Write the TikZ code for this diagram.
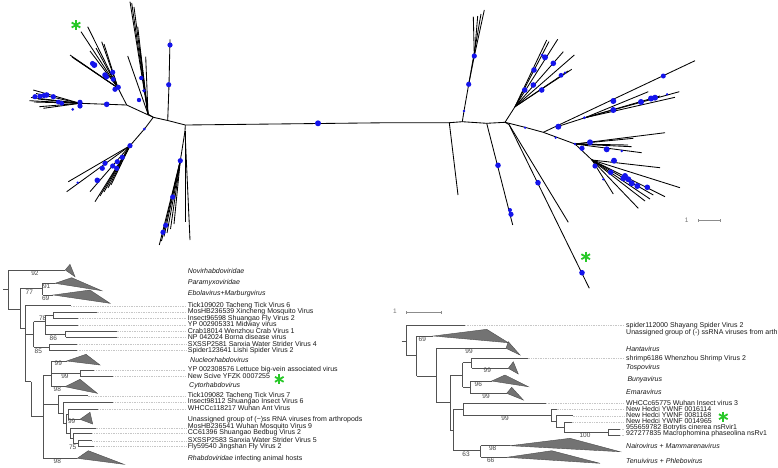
\documentclass[tikz,border=0pt]{standalone}
\usepackage{fontspec}
\setmainfont{Liberation Sans}
\definecolor{dotblue}{RGB}{20,20,235}
\definecolor{astgreen}{RGB}{40,200,40}
\tikzset{
 br/.style={draw=black!68, line width=0.7pt},
 tri/.style={fill=black!55, draw=black!70, line width=0.4pt},
 lab/.style={anchor=west, inner sep=0pt, font=\fontsize{7}{8}\selectfont, text=black!90},
 bs/.style={inner sep=0pt, font=\fontsize{6.5}{7}\selectfont, text=black!72},
 tb/.style={draw=black, line width=0.85pt},
 bd/.style={fill=dotblue},
 gd/.style={draw=black!22, line width=0.4pt, dash pattern=on 0.7pt off 1pt},
 ast/.style={draw=astgreen, line width=1.8pt},
 sb/.style={draw=black!45, line width=0.5pt},
}
\newcommand\gstar[1]{\foreach \aa in {90,30,150} {\draw[ast] #1 ++(\aa:5pt) -- ++(\aa+180:10pt);}}
\begin{document}
\begin{tikzpicture}[x=1pt,y=-1pt]
\useasboundingbox (0,0) rectangle (778,467);
\fill[white] (0,0) rectangle (778,467);

%================ TOP UNROOTED TREE ================
\draw[tb] (185.3,125) -- (390,122.7) -- (449.3,122.7) -- (462.3,121.7) -- (486.7,123.3) -- (505,122.3);
\draw[tb] (185.3,125) -- (167.7,120.5) -- (153.3,117.3);
\draw[tb] (167.7,120.5) -- (169,85) -- (170,39.3);
\draw[tb] (185.3,125) -- (185,131) -- (180.3,160.7);
\draw[tb] (185,131) -- (185,221.7);
\draw[tb] (185,131) -- (190,240);
\foreach \p in {(159.3,245),(161.5,241),(164,236.5),(167,233),(170.5,229),(174,224)}
  {\draw[tb] (180.3,160.7) -- \p;}
\draw[tb] (153.3,117.3) -- (148,114);
\foreach \p in {(130,1.7),(131.7,3),(134,7),(137.7,26.7),(140,49.3),(145.7,56.7),(127.7,56)}
  {\draw[tb] (148,114) -- \p;}
\draw[tb] (153.3,117.3) -- (126.7,105) -- (80,103.3);
\foreach \p in {(29.3,100.7),(31,97.5),(33.3,90),(36,93.5),(34,102),(39.3,106.7),(43.3,108.3),(38,99)}
  {\draw[tb] (80,103.3) -- \p;}
\draw[tb] (126.7,105) -- (118,88);
\foreach \p in {(81,31.7),(87.7,26.7),(70,55),(72,57),(74.5,58.5),(101.7,41.7),(104,44),(90,51),(96,48)}
  {\draw[tb] (118,88) -- \p;}
\draw[tb] (153.3,117.3) -- (145,128.3) -- (130,145.7);
\foreach \p in {(68.3,181.7),(66.7,191.7),(90,191.7),(95,201.7),(100,196),(104,192),(108,188),(111,185)}
  {\draw[tb] (130,145.7) -- \p;}

\draw[tb] (462.3,121.7) -- (464,111) -- (468.7,84.3) -- (474.3,56) -- (477.7,16);
\draw[tb] (474.3,56) -- (473.3,16.7);
\draw[tb] (474.3,56) -- (484.3,10);
\draw[tb] (468.7,84.3) -- (481,14);
\draw[tb] (449.3,122.7) -- (458,195);
\draw[tb] (486.7,123.3) -- (512.7,225);
\draw[tb] (505,122.3) -- (509,124.5);
\draw[tb] (509,124.5) -- (568.3,222.3);
\draw[tb] (509,124.5) -- (589.3,288.3);
\draw[tb] (505,122.3) -- (515,106.7);
\foreach \p in {(546.7,40),(549,41.5),(557.7,39.3),(563.3,51.7),(574.3,55),(571.7,69.3),(568,71)}
  {\draw[tb] (515,106.7) -- \p;}
\draw[tb] (505,122.3) -- (525,127.3) -- (543.3,132.3);
\draw[tb] (543.3,132.3) -- (695,60.7);
\draw[tb] (558.3,126.3) -- (585,117.7) -- (648.3,91.7);
\draw[tb] (585,117.7) -- (679.3,91.7);
\draw[tb] (585,117.7) -- (675,97.3);
\draw[tb] (585,117.7) -- (660,96);
\draw[tb] (543.3,132.3) -- (575,144) -- (592,160);
\foreach \p in {(665,132.7),(633.3,138.3),(631.7,146.7),(641.7,152.7),(628,145)}
  {\draw[tb] (575,144) -- \p;}
\foreach \p in {(660,167.7),(680,187.7),(665,196.7),(653.3,195),(638.3,208.3),(613.3,194),(645,201),(650,199)}
  {\draw[tb] (592,160) -- \p;}

\foreach \x/\y/\r in {318/123.3/3, 170/45/2.6, 168.7/84.7/2.6,
 180.3/160.7/2.6, 172.7/197/2.6, 165.7/225.3/2.6, 163/232.3/2.6,
 141.3/78/2.2, 144/90.7/1.8, 139/100/2.2,
 35/96.7/2.6, 40/96.3/2.6, 44/95.5/2.6, 46.7/95/2.8, 53.3/96.7/2.6, 58.3/102/2.4, 61.7/103.3/2.4, 80/102.3/2.6, 80/106/2.6, 72.7/109.3/1.5, 106.7/104.3/2.8,
 94.3/65/3, 92.5/63.5/2.6, 105/75/2.8, 106.5/77/2.6, 112.7/72.3/2.6, 113.3/79.3/2.4, 115/89.3/2.6, 118.3/87.3/2.6,
 144.3/129/1.5, 130/145.7/2.6, 105/163.3/2.6, 102.3/168.3/2.6, 122.3/157.3/2.6, 117.3/161.7/2.6, 112.7/166/2.6, 116.7/168.3/2.6, 97.3/180.3/2.8, 77.7/182.7/1.3,
 474.3/56/2.6, 468.7/84.3/2.6, 464/111/1.3,
 498/165.3/2.8, 510/210/2, 511/214.3/2.6,
 538/182.7/2.8, 582/272.7/2.8,
 545/57.3/3, 553.3/63.3/2.8, 534/70/2.8, 533.3/85/2.8, 541.7/90/2.8, 524.7/90/2.8, 561/75.3/2.4, 565/72.7/1.3, 542/55/1.5,
 525/127.7/1.3, 558.3/126.7/3, 584.3/117.7/1.5, 613.3/101/3, 613.3/110/3, 641/102/3, 655/97.7/3, 651/98.5/3, 663.3/76/2.5, 667/94.3/1.3,
 555.7/137.7/1.3, 575/144/1.3, 590/142.3/3, 582/148.3/2.6, 606.7/149.3/3, 621.7/151/1.3, 614/160.7/3, 595/166/2.6, 610.7/172.3/2.8, 625/176/3, 628.3/179.3/3, 631.7/183.3/3, 637.3/186/3, 647.3/187.3/2.8, 623.3/178.3/3, 603.3/179.3/1.3}
  {\fill[bd] (\x,\y) circle (\r pt);}

\node[bs, text=black!55] (s1) at (686.7,220) {1};
\draw[sb] (698.3,220.7) -- (720,220.7);
\draw[sb] (698.3,219) -- (698.3,222.4);
\draw[sb] (720,219) -- (720,222.4);

\gstar{(76,25)}
\gstar{(585.7,256.7)}
\gstar{(279.3,379.3)}
\gstar{(723.3,416.7)}

%================ BOTTOM LEFT CLADOGRAM ================
\draw[br] (3,289.3) -- (8.3,289.3);
\draw[br] (8.3,270) -- (8.3,309.3);
\draw[br] (8.3,270) -- (65.3,270);
\draw[br] (8.3,309.3) -- (20,309.3);
\draw[br] (20,288.3) -- (20,328.3);
\draw[br] (20,288.3) -- (42.7,288.3);
\draw[br] (42.7,283.3) -- (42.7,295);
\draw[br] (42.7,283.3) -- (55,283.3);
\draw[br] (42.7,295) -- (53.3,295);
\draw[br] (20,328.3) -- (25,328.3);
\draw[br] (25,305.7) -- (25,381.7);
\draw[br] (25,305.7) -- (71,305.7);
\draw[br] (25,334.5) -- (33.5,334.5);
\draw[br] (33.5,321.7) -- (33.5,347.3);
\draw[br] (33.5,321.7) -- (45,321.7);
\draw[br] (45,315.3) -- (45,334);
\draw[br] (45,315.3) -- (53.3,315.3);
\draw[br] (53.3,312.3) -- (53.3,318.3);
\draw[br] (53.3,312.3) -- (96.7,312.3);
\draw[br] (53.3,318.3) -- (78.3,318.3);
\draw[br] (45,325) -- (78.3,325);
\draw[br] (45,334) -- (65.7,334);
\draw[br] (65.7,331) -- (65.7,337);
\draw[br] (65.7,331) -- (116.7,331);
\draw[br] (65.7,337) -- (116.7,337);
\draw[br] (33.5,347.3) -- (49.3,347.3);
\draw[br] (49.3,344.3) -- (49.3,350.3);
\draw[br] (49.3,344.3) -- (77,344.3);
\draw[br] (49.3,350.3) -- (77,350.3);
\draw[br] (25,381.7) -- (31,381.7);
\draw[br] (31,381.7) -- (31,416.7);
\draw[br] (31,416.7) -- (43.3,416.7);
\draw[br] (43.3,375) -- (43.3,458.3);
\draw[br] (43.3,375) -- (51.7,375);
\draw[br] (51.7,361) -- (51.7,386.7);
\draw[br] (51.7,361) -- (66.7,361);
\draw[br] (51.7,373) -- (80,373);
\draw[br] (80,370) -- (80,376);
\draw[br] (80,370) -- (94.3,370);
\draw[br] (80,376) -- (113.3,376);
\draw[br] (51.7,386.7) -- (65,386.7);
\draw[br] (43.3,404.5) -- (58.3,404.5);
\draw[br] (58.3,395.7) -- (58.3,413);
\draw[br] (58.3,395.7) -- (87.7,395.7);
\draw[br] (58.3,413) -- (63.3,413);
\draw[br] (63.3,402.3) -- (63.3,423.7);
\draw[br] (63.3,402.3) -- (113.3,402.3);
\draw[br] (63.3,423.7) -- (66,423.7);
\draw[br] (66,414) -- (66,433.3);
\draw[br] (66,414) -- (68.3,414);
\draw[br] (68.3,409) -- (68.3,419.3);
\draw[br] (68.3,409) -- (98.3,409);
\draw[br] (68.3,419.3) -- (80,419.3);
\draw[br] (66,433.3) -- (70,433.3);
\draw[br] (70,428.3) -- (70,438.3);
\draw[br] (70,428.3) -- (95.7,428.3);
\draw[br] (70,438.3) -- (73.3,438.3);
\draw[br] (73.3,433.3) -- (73.3,443.3);
\draw[br] (73.3,433.3) -- (92.3,433.3);
\draw[br] (73.3,443.3) -- (78.3,443.3);
\draw[br] (78.3,440.7) -- (78.3,446);
\draw[br] (78.3,440.7) -- (92.3,440.7);
\draw[br] (78.3,446) -- (94,446);
\draw[br] (43.3,458.3) -- (77.3,458.3);
\draw[tri] (65.3,270) -- (70,264.3) -- (75,276.7) -- cycle;
\draw[tri] (55,283.3) -- (71.7,277.7) -- (101.7,290.7) -- cycle;
\draw[tri] (53.3,295) -- (90,290) -- (110,303.3) -- cycle;
\draw[tri] (66.7,361) -- (86,354.3) -- (100,365) -- cycle;
\draw[tri] (65,386.7) -- (80,379.3) -- (97.3,393.3) -- cycle;
\draw[tri] (80,419.3) -- (90,412.3) -- (92.7,424) -- cycle;
\draw[tri] (77.3,458.3) -- (88.3,450.7) -- (124,464.3) -- cycle;
\foreach \a/\y in {71/305.7, 96.7/312.3, 78.3/318.3, 78.3/325, 116.7/331, 116.7/337, 77/344.3, 77/350.3, 94.3/370, 113.3/376, 87.7/395.7, 113.3/402.3, 98.3/409, 95.7/428.3, 92.3/433.3, 92.3/440.7, 94/446}
  {\draw[gd] (\a,\y) -- (186,\y);}
\node[bs] (b1) at (35,273.3) {92};
\node[bs] (b2) at (46.7,286.7) {91};
\node[bs] (b3) at (29.3,292.7) {77};
\node[bs] (b4) at (45.7,298.3) {69};
\node[bs] (b5) at (42.7,318.3) {78};
\node[bs] (b6) at (53.3,338.5) {86};
\node[bs] (b7) at (38.3,351) {85};
\node[bs] (b8) at (58.3,363.3) {99};
\node[bs] (b9) at (65,376.5) {99};
\node[bs] (b10) at (57.3,389.5) {98};
\node[bs] (b11) at (71.7,421.7) {99};
\node[bs] (b12) at (72.7,447.5) {75};
\node[bs] (b13) at (57.3,461) {98};
\node[lab] (t1) at (187.7,270.7) {\textit{Novirhabdoviridae}};
\node[lab] (t2) at (187.7,282.3) {\textit{Paramyxoviridae}};
\node[lab] (t3) at (187.7,293.7) {\textit{Ebolavirus+Marburgvirus}};
\node[lab] (t4) at (187.7,305.5) {Tick109020 Tacheng Tick Virus 6};
\node[lab] (t5) at (187.7,311.8) {MosHB236539 Xincheng Mosquito Virus};
\node[lab] (t6) at (187.7,318.2) {Insect96598 Shuangao Fly Virus 2};
\node[lab] (t7) at (187.7,324.7) {YP 002905331 Midway virus};
\node[lab] (t8) at (187.7,330.9) {Crab18014 Wenzhou Crab Virus 1};
\node[lab] (t9) at (187.7,337.1) {NP 042024 Borna disease virus};
\node[lab] (t10) at (187.7,343.8) {SXSSP2581 Sanxia Water Strider Virus 4};
\node[lab] (t11) at (187.7,350.2) {Spider123641 Lishi Spider Virus 2};
\node[lab] (t12) at (190,360.3) {\textit{Nucleorhabdovirus}};
\node[lab] (t13) at (187.7,369.8) {YP 002308576 Lettuce big-vein associated virus};
\node[lab] (t14) at (187.7,376) {New Scive YFZK 0007255};
\node[lab] (t15) at (189,385.5) {\textit{Cytorhabdovirus}};
\node[lab] (t16) at (187.7,395.2) {Tick109082 Tacheng Tick Virus 7};
\node[lab] (t17) at (187.7,401.8) {Insect98112 Shuangao Insect Virus 6};
\node[lab] (t18) at (187.7,408.2) {WHCCc118217 Wuhan Ant Virus};
\node[lab] (t19) at (187.7,420) {Unassigned group of (−)ss RNA viruses from arthropods};
\node[lab] (t20) at (187.7,426.6) {MosHB236541 Wuhan Mosquito Virus 9};
\node[lab] (t21) at (187.7,433.1) {CC61396 Shuangao Bedbug Virus 2};
\node[lab] (t22) at (187.7,440) {SXSSP2583 Sanxia Water Strider Virus 5};
\node[lab] (t23) at (187.7,447) {Fly59540 Jingshan Fly Virus 2};
\node[lab] (t24) at (187.7,459) {\textit{Rhabdoviridae} infecting animal hosts};

%================ BOTTOM RIGHT CLADOGRAM ================
\node[bs, text=black!55] (s2) at (395,311.7) {1};
\draw[sb] (406,312.7) -- (441,312.7);
\draw[sb] (406,311) -- (406,314.4);
\draw[sb] (441,311) -- (441,314.4);

\draw[br] (401.7,341) -- (406,341);
\draw[br] (406,325) -- (406,355);
\draw[br] (406,325) -- (465,325);
\draw[br] (406,355) -- (416.7,355);
\draw[br] (416.7,336) -- (416.7,376);
\draw[br] (416.7,336) -- (433.3,336);
\draw[br] (416.7,376) -- (436,376);
\draw[br] (436,348.3) -- (436,402.7);
\draw[br] (436,348.3) -- (506,348.3);
\draw[br] (436,402.7) -- (450,402.7);
\draw[br] (450,375) -- (450,430);
\draw[br] (450,375) -- (462.7,375);
\draw[br] (462.7,362.7) -- (462.7,387.3);
\draw[br] (462.7,362.7) -- (471.7,362.7);
\draw[br] (471.7,358.3) -- (471.7,368.3);
\draw[br] (471.7,358.3) -- (527.7,358.3);
\draw[br] (471.7,368.3) -- (508.3,368.3);
\draw[br] (462.7,387.3) -- (470,387.3);
\draw[br] (470,381) -- (470,393.3);
\draw[br] (470,381) -- (491.7,381);
\draw[br] (470,393.3) -- (506.7,393.3);
\draw[br] (450,430) -- (453,430);
\draw[br] (453,409.5) -- (453,450.7);
\draw[br] (453,409.5) -- (463.3,409.5);
\draw[br] (463.3,403.3) -- (463.3,415.7);
\draw[br] (463.3,403.3) -- (546,403.3);
\draw[br] (463.3,415.7) -- (551,415.7);
\draw[br] (551,409.3) -- (551,421);
\draw[br] (551,409.3) -- (556.7,409.3);
\draw[br] (551,421) -- (556,421);
\draw[br] (556,415.7) -- (556,427);
\draw[br] (556,415.7) -- (572.7,415.7);
\draw[br] (556,427) -- (564.3,427);
\draw[br] (564.3,422.3) -- (564.3,432.3);
\draw[br] (564.3,422.3) -- (571.7,422.3);
\draw[br] (564.3,432.3) -- (608.3,432.3);
\draw[br] (608.3,429) -- (608.3,435);
\draw[br] (608.3,429) -- (620,429);
\draw[br] (608.3,435) -- (620,435);
\draw[br] (453,450.7) -- (480.7,450.7);
\draw[br] (480.7,445.7) -- (480.7,457.3);
\draw[br] (480.7,445.7) -- (510,445.7);
\draw[br] (480.7,457.3) -- (506.7,457.3);
\draw[tri] (433.3,336) -- (486.7,329.3) -- (508.3,342.7) -- cycle;
\draw[tri] (506,348.3) -- (508.3,341.7) -- (520,355) -- cycle;
\draw[tri] (508.3,368.3) -- (513.3,361.7) -- (518.3,374) -- cycle;
\draw[tri] (491.7,381) -- (505,375) -- (528.3,386.7) -- cycle;
\draw[tri] (506.7,393.3) -- (511.7,387.3) -- (523.3,400) -- cycle;
\draw[tri] (510,445.7) -- (570,438.3) -- (620,451.7) -- cycle;
\draw[tri] (506.7,457.3) -- (551.7,450.7) -- (600,463.3) -- cycle;
\foreach \a/\y in {465/325, 527.7/358.3, 546/403.3, 556.7/409.3, 572.7/415.7, 571.7/422.3, 620/429, 620/435}
  {\draw[gd] (\a,\y) -- (624,\y);}
\node[bs] (c1) at (422.3,339) {69};
\node[bs] (c2) at (469,351.7) {99};
\node[bs] (c3) at (487.3,370.7) {99};
\node[bs] (c4) at (478.3,384) {96};
\node[bs] (c5) at (486,396.7) {99};
\node[bs] (c6) at (505,418.5) {99};
\node[bs] (c7) at (585,435.3) {100};
\node[bs] (c8) at (492.7,448.3) {98};
\node[bs] (c9) at (466,454) {63};
\node[bs] (c10) at (490.7,460.7) {66};
\node[lab] (r1) at (626,325.3) {spider112000 Shayang Spider Virus 2};
\node[lab] (r2) at (626,332.3) {Unassigned group of (-) ssRNA viruses from arth};
\node[lab] (r3) at (626,348.7) {\textit{Hantavirus}};
\node[lab] (r4) at (626,358.3) {shrimp6186 Whenzhou Shrimp Virus 2};
\node[lab] (r5) at (626,368) {\textit{Tospovirus}};
\node[lab] (r6) at (627.3,380) {\textit{Bunyavirus}};
\node[lab] (r7) at (626,392.3) {\textit{Emaravirus}};
\node[lab] (r8) at (626,403.1) {WHCCc65775 Wuhan Insect virus 3};
\node[lab] (r9) at (626,409.2) {New Hedci YWNF 0016114};
\node[lab] (r10) at (626,415.1) {New Hedci YWNF 0081168};
\node[lab] (r11) at (626,421.1) {New Hedci YWNF 0014965};
\node[lab] (r12) at (626,427.8) {955659782 Botrytis cinerea nsRvir1};
\node[lab] (r13) at (626,433.6) {927277835 Macrophomina phaseolina nsRv1};
\node[lab] (r14) at (626,445.7) {\textit{Nairovirus} + \textit{Mammarenavirus}};
\node[lab] (r15) at (626,461) {\textit{Tenuivirus} + \textit{Phlebovirus}};
\end{tikzpicture}
\end{document}
